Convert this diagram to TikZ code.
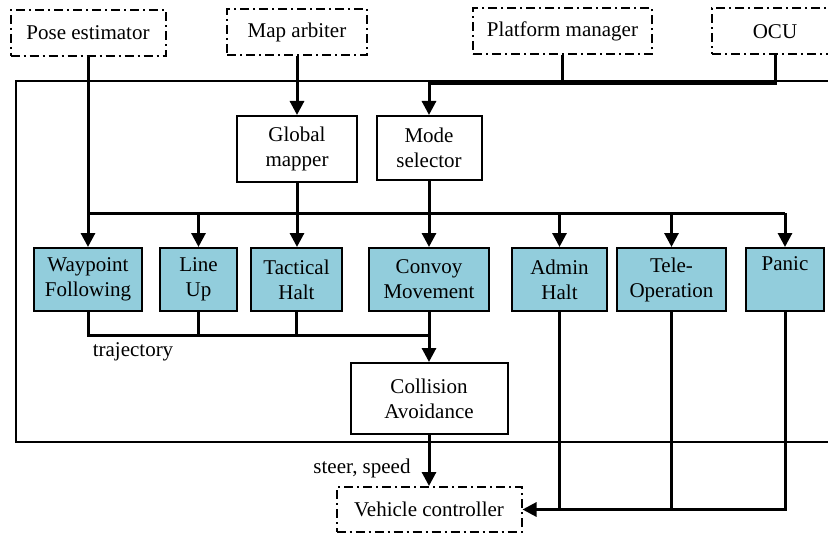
\documentclass[tikz,border=0pt]{standalone}
\usepackage{fontspec}
\setmainfont{Liberation Serif}
\usepackage{tikz}
\usetikzlibrary{arrows.meta,positioning,calc}
\definecolor{modeblue}{RGB}{146,205,220}

\begin{document}
\begin{tikzpicture}[x=1pt, y=-1pt, line width=3pt, >={Triangle[length=14pt,width=14pt]},
  ext node/.style={draw, line width=2pt, dash pattern=on 9pt off 4pt on 2pt off 4pt, inner sep=0pt, minimum height=46pt},
  proc node/.style={draw, line width=2pt, fill=white, inner sep=0pt, align=center},
  mode node/.style={draw, line width=2pt, fill=modeblue, inner sep=0pt, align=center, minimum height=63pt}]
\clip (0,0) rectangle (828,535);
\fill[white] (0,0) rectangle (828,535);
\draw[line width=1.5pt] (16,81) rectangle (845,442);
\begin{scope}[every node/.style={font=\fontsize{21}{25}\selectfont}]
\node[ext node, minimum width=155pt] (pose) at (88,33) {Pose estimator};
\node[ext node, minimum width=140pt] (map) at (297,32) {Map arbiter};
\node[ext node, minimum width=179pt] (plat) at (562.5,31.5) {Platform manager};
\node[ext node, minimum width=126pt] (ocu) at (775,31.5) {OCU};
\node[proc node, minimum width=120pt, minimum height=66pt] (gmap) at (297,149) {Global\\mapper};
\node[proc node, minimum width=105pt, minimum height=64pt] (mode) at (429,148) {Mode\\selector};
\node[mode node, minimum width=108pt] (wayp) at (88,279.5) {Waypoint\\Following};
\node[mode node, minimum width=77pt] (lineup) at (198.5,279.5) {Line\\Up};
\node[mode node, minimum width=91pt] (tact) at (296.5,279.5) {Tactical\\Halt};
\node[mode node, minimum width=120pt] (convoy) at (429,279.5) {Convoy\\Movement};
\node[mode node, minimum width=95pt] (admin) at (559.5,279.5) {Admin\\Halt};
\node[mode node, minimum width=109pt] (tele) at (671.5,279.5) {Tele-\\Operation};
\node[mode node, minimum width=78pt] (panic) at (785,279.5) {Panic\\\strut};
\node[proc node, minimum width=157pt, minimum height=71pt] (coll) at (429,398.5) {Collision\\Avoidance};
\node[ext node, minimum width=185pt, minimum height=45pt] (veh) at (429,509.5) {Vehicle controller};
\node (traj) at (133,352) {trajectory};
\node (steer) at (362,468) {steer, speed};
\end{scope}
\coordinate (modein) at (429,84);
\coordinate (busy) at (0,213);
\coordinate (trajy) at (0,335);
\begin{scope}
\draw[->] (pose.south) -- (pose.south |- wayp.north);
\draw[->] (map.south) -- (map.south |- gmap.north);
\draw (plat.south) -- (plat.south |- modein);
\draw[->] (ocu.south) |- (modein) -- (mode.north);
\draw[->] (gmap.south) -- (gmap.south |- tact.north);
\draw[->] (mode.south) -- (mode.south |- convoy.north);
\draw (wayp.north |- busy) -- (panic.north |- busy);
\draw[->] (lineup.north |- busy) -- (lineup.north);
\draw[->] (admin.north |- busy) -- (admin.north);
\draw[->] (tele.north |- busy) -- (tele.north);
\draw[->] (panic.north |- busy) -- (panic.north);
\draw (wayp.south) |- (convoy.south |- trajy);
\draw (lineup.south) -- (lineup.south |- trajy);
\draw (tact.south) -- (tact.south |- trajy);
\draw[->] (convoy.south) -- (coll.north);
\draw[->] (coll.south) -- (veh.north);
\draw[->] (panic.south) |- (veh.east);
\draw (admin.south) -- (admin.south |- veh.east);
\draw (tele.south) -- (tele.south |- veh.east);
\end{scope}
\end{tikzpicture}
\end{document}
